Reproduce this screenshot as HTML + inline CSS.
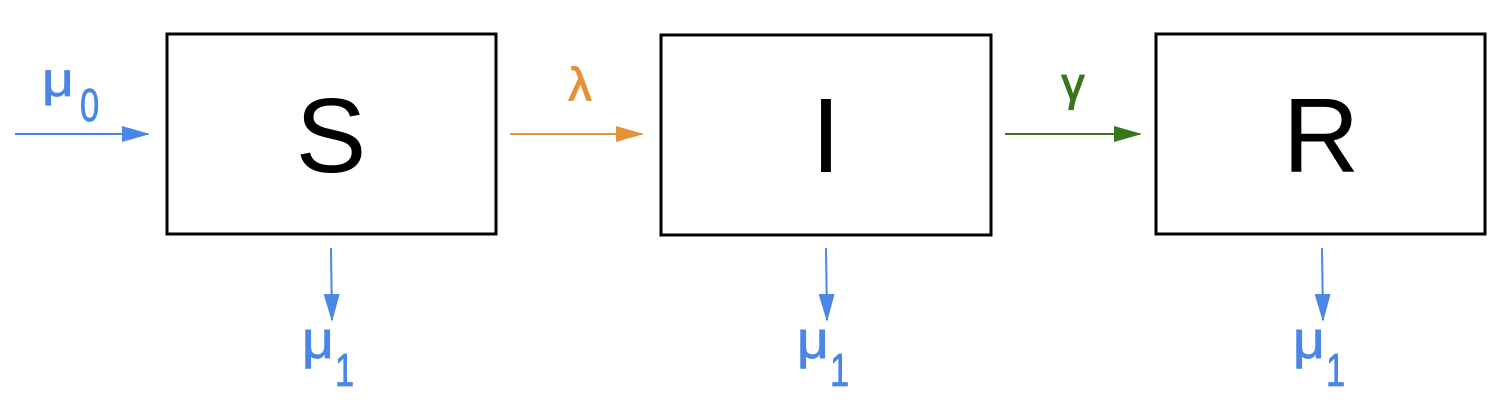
<!DOCTYPE html>
<html><head><meta charset="utf-8"><style>
html,body{margin:0;padding:0;background:#fff;}
svg{display:block;font-family:"Liberation Sans",sans-serif;}
</style></head><body>
<svg width="1501" height="420" viewBox="0 0 1501 420">
<defs>
<marker id="ab" markerWidth="28" markerHeight="16" refX="26" refY="8" orient="auto" markerUnits="userSpaceOnUse"><path d="M0,0 L28,8 L0,16 Z" fill="#4a86e8"/></marker>
<marker id="ao" markerWidth="28" markerHeight="16" refX="26" refY="8" orient="auto" markerUnits="userSpaceOnUse"><path d="M0,0 L28,8 L0,16 Z" fill="#e69138"/></marker>
<marker id="ag" markerWidth="28" markerHeight="16" refX="26" refY="8" orient="auto" markerUnits="userSpaceOnUse"><path d="M0,0 L28,8 L0,16 Z" fill="#38761d"/></marker>
</defs>
<g>
<rect x="167" y="34" width="329" height="200" fill="none" stroke="#000" stroke-width="3"/>
<text x="331" y="172" font-size="106" text-anchor="middle">S</text>
</g>
<g>
<rect x="661" y="35" width="330" height="200" fill="none" stroke="#000" stroke-width="3"/>
<text x="826" y="172" font-size="106" text-anchor="middle">I</text>
</g>
<g>
<rect x="1156" y="34" width="329" height="200" fill="none" stroke="#000" stroke-width="3"/>
<text x="1321" y="172" font-size="106" text-anchor="middle">R</text>
</g>
<line x1="15" y1="134" x2="148" y2="134" stroke="#4a86e8" stroke-width="2" marker-end="url(#ab)"/>
<g fill="#4a86e8" stroke="#4a86e8" stroke-width="0.8">
<text transform="translate(42,96) scale(1.15,1)" font-size="48">μ</text>
<text transform="translate(80,121) scale(0.75,1)" font-size="46">0</text>
</g>
<line x1="510" y1="134" x2="642" y2="134" stroke="#e69138" stroke-width="2" marker-end="url(#ao)"/>
<text x="580" y="100" font-size="46" fill="#e69138" stroke="#e69138" stroke-width="1.2" text-anchor="middle">λ</text>
<line x1="1005" y1="134" x2="1140" y2="134" stroke="#38761d" stroke-width="2" marker-end="url(#ag)"/>
<text x="1073" y="100" font-size="46" fill="#38761d" stroke="#38761d" stroke-width="1.2" text-anchor="middle">γ</text>
<g>
<line x1="331" y1="248" x2="332" y2="320" stroke="#4a86e8" stroke-width="2" marker-end="url(#ab)"/>
<g fill="#4a86e8" stroke="#4a86e8" stroke-width="0.8">
<text transform="translate(302,358) scale(1.15,1.1)" font-size="48">μ</text>
<text transform="translate(335,386) scale(0.75,1)" font-size="46">1</text>
</g>
</g>
<g>
<line x1="826" y1="248" x2="827" y2="320" stroke="#4a86e8" stroke-width="2" marker-end="url(#ab)"/>
<g fill="#4a86e8" stroke="#4a86e8" stroke-width="0.8">
<text transform="translate(797,358) scale(1.15,1.1)" font-size="48">μ</text>
<text transform="translate(830,386) scale(0.75,1)" font-size="46">1</text>
</g>
</g>
<g>
<line x1="1322" y1="248" x2="1323" y2="320" stroke="#4a86e8" stroke-width="2" marker-end="url(#ab)"/>
<g fill="#4a86e8" stroke="#4a86e8" stroke-width="0.8">
<text transform="translate(1293,358) scale(1.15,1.1)" font-size="48">μ</text>
<text transform="translate(1326,386) scale(0.75,1)" font-size="46">1</text>
</g>
</g>
</svg>
</body></html>
